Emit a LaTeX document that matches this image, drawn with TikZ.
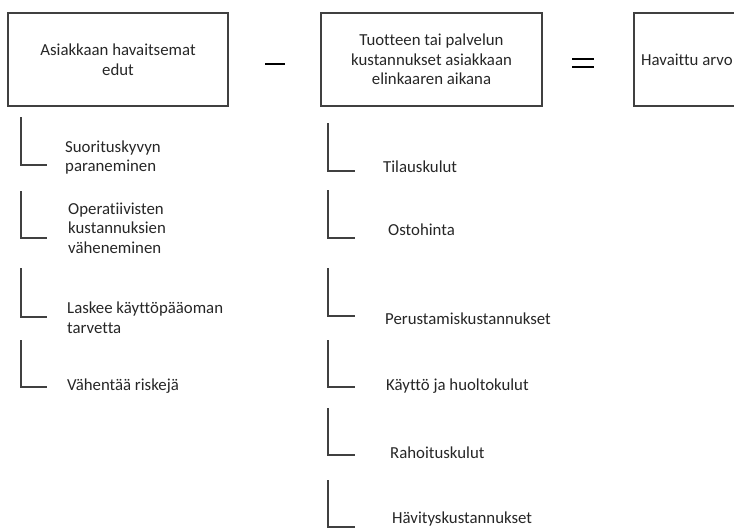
\documentclass[tikz,border=0pt]{standalone}
\usepackage{fontspec}
\setmainfont{Carlito}[Ligatures=NoCommon]
\definecolor{txt}{HTML}{262626}
\definecolor{ln}{HTML}{404040}
\begin{document}
\begin{tikzpicture}[x=1pt,y=-1pt,
  box/.style={draw=ln,line width=1.1pt,minimum width=220pt,minimum height=93pt,inner sep=2pt,align=center,text=txt},
  lbl/.style={anchor=west,inner sep=0pt,align=left,text=txt},
  brk/.style={draw=ln,line width=1.2pt},
  op/.style={draw=black,line width=2.4pt}]
\useasboundingbox (0,0) rectangle (734,528);
\clip (0,0) rectangle (734,528);
\fontsize{16.8}{19.5}\selectfont
% top boxes
\node[box] (b1) at (118,59.5) {Asiakkaan havaitsemat\\edut};
\node[box,minimum width=221pt] (b2) at (431.5,59.5) {Tuotteen tai palvelun\\kustannukset asiakkaan\\elinkaaren aikana};
\node[box] (b3) at (744,59.5) {};
\node[lbl] (b3t) at (641,59.5) {Havaittu arvo};
% operators
\coordinate (m1) at (265,64); \coordinate (m2) at (285,64);
\draw[op] (m1) -- (m2);
\coordinate (e1) at (572,59); \coordinate (e2) at (594,59);
\coordinate (e3) at (572,67); \coordinate (e4) at (594,67);
\draw[op,line width=2pt] (e1) -- (e2);
\draw[op,line width=2pt] (e3) -- (e4);
% left column
\draw[brk] (21,117) |- (47,165);
\node[lbl] (l1) at (65,157.5) {Suorituskyvyn\\paraneminen};
\draw[brk] (21,191) |- (47,238);
\node[lbl] (l2) at (68,228) {Operatiivisten\\kustannuksien\\väheneminen};
\draw[brk] (21,268) |- (47,317);
\node[lbl] (l3) at (67,317.5) {Laskee käyttöpääoman\\tarvetta};
\draw[brk] (21,340) |- (47,387);
\node[lbl] (l4) at (67,386) {Vähentää riskejä};
% right column
\draw[brk] (328,123) |- (355,171);
\node[lbl] (r1) at (383,167) {Tilauskulut};
\draw[brk] (328,190) |- (355,238);
\node[lbl] (r2) at (388,230) {Ostohinta};
\draw[brk] (328,268) |- (355,316);
\node[lbl] (r3) at (385,319) {Perustamiskustannukset};
\draw[brk] (328,340) |- (355,387);
\node[lbl] (r4) at (386,386) {Käyttö ja huoltokulut};
\draw[brk] (328,408) |- (355,455);
\node[lbl] (r5) at (390,453) {Rahoituskulut};
\draw[brk] (328,480) |- (355,527);
\node[lbl] (r6) at (392,519) {Hävityskustannukset};
\end{tikzpicture}
\end{document}
